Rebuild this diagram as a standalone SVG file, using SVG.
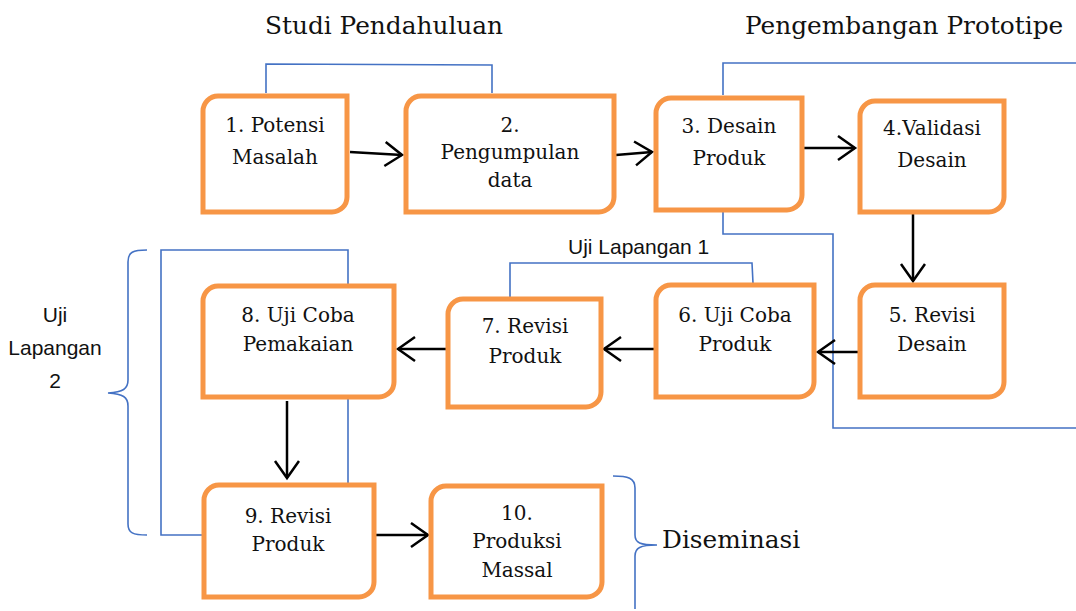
<svg xmlns="http://www.w3.org/2000/svg" width="1076" height="611" viewBox="0 0 1076 611">
<style>
.box{fill:#fff;stroke:#F79646;stroke-width:5}
.t{font-family:"DejaVu Serif","Liberation Serif",serif;font-size:20px;fill:#111;text-anchor:middle}
.title{font-family:"DejaVu Serif","Liberation Serif",serif;font-size:24.8px;fill:#111}
.s{font-family:"Liberation Sans",Arial,sans-serif;font-size:21px;fill:#111}
.blue{fill:none;stroke:#4472C4;stroke-width:1.6}
.arr{fill:none;stroke:#000;stroke-width:2.5;marker-end:url(#ah)}
</style>
<defs>
<marker id="ah" markerUnits="userSpaceOnUse" markerWidth="22" markerHeight="30" refX="19" refY="13" orient="auto" viewBox="0 0 22 30">
<path d="M2,1 L19,13 L2,25" fill="none" stroke="#000" stroke-width="2.5"/>
</marker>
</defs>
<rect width="1076" height="611" fill="#fff"/>

<g id="labels">
<text class="title" x="265" y="34">Studi Pendahuluan</text>
<text class="title" x="745" y="34">Pengembangan Prototipe</text>
<text class="title" x="662" y="548">Diseminasi</text>
<text class="s" x="568" y="254">Uji Lapangan 1</text>
<text class="s" x="55" y="322" text-anchor="middle">Uji</text>
<text class="s" x="55" y="355" text-anchor="middle">Lapangan</text>
<text class="s" x="55" y="388" text-anchor="middle">2</text>
</g>

<g id="connectors">
<path class="blue" d="M266,93 V64 L492,65 V93"/>
<path class="blue" d="M723,95 V63 H1076"/>
<path class="blue" d="M723,212 V234 H833 V428 H1076"/>
<path class="blue" d="M753,283 L752,263 H510 V298"/>
<path class="blue" d="M348,284 V250 H161 V535 H203"/>
<path class="blue" d="M348,399 V483"/>
<path class="blue" d="M147,250 C133,250 128,252 128,262 V380 C128,389 123,392 108,393 C123,394 128,397 128,406 V524 C128,533 133,535 147,535"/>
<path class="blue" d="M613,476 C628,476 635,478 635,488 V535 C635,543 640,545 657,545 C640,545 635,548 635,556 V609"/>
<path class="arr" d="M350,152 L402,155"/>
<path class="arr" d="M616,155 L652,152"/>
<path class="arr" d="M804,148 L855,148"/>
<path class="arr" d="M913,214 V281"/>
<path class="arr" d="M858,352 H818"/>
<path class="arr" d="M655,349 H604"/>
<path class="arr" d="M450,349 H398"/>
<path class="arr" d="M287,401 V478"/>
<path class="arr" d="M375,535 H428"/>
</g>

<g id="n1"><path class="box" d="M218,96 H347 V197 A15,15 0 0 1 332,212 H203 V111 A15,15 0 0 1 218,96 Z"/>
<text class="t" x="275" y="132">1. Potensi</text><text class="t" x="275" y="164">Masalah</text></g>
<g id="n2"><path class="box" d="M421,96 H614 V197 A15,15 0 0 1 599,212 H406 V111 A15,15 0 0 1 421,96 Z"/>
<text class="t" x="510" y="132">2.</text><text class="t" x="510" y="159">Pengumpulan</text><text class="t" x="510" y="187">data</text></g>
<g id="n3"><path class="box" d="M671,98 H802 V195 A15,15 0 0 1 787,210 H656 V113 A15,15 0 0 1 671,98 Z"/>
<text class="t" x="729" y="133">3. Desain</text><text class="t" x="729" y="165">Produk</text></g>
<g id="n4"><path class="box" d="M875,101 H1004 V197 A15,15 0 0 1 989,212 H860 V116 A15,15 0 0 1 875,101 Z"/>
<text class="t" x="932" y="135">4.Validasi</text><text class="t" x="932" y="167">Desain</text></g>
<g id="n5"><path class="box" d="M875,285 H1004 V382 A15,15 0 0 1 989,397 H860 V300 A15,15 0 0 1 875,285 Z"/>
<text class="t" x="932" y="322">5. Revisi</text><text class="t" x="932" y="351">Desain</text></g>
<g id="n6"><path class="box" d="M671,285 H814 V382 A15,15 0 0 1 799,397 H656 V300 A15,15 0 0 1 671,285 Z"/>
<text class="t" x="735" y="322">6. Uji Coba</text><text class="t" x="735" y="351">Produk</text></g>
<g id="n7"><path class="box" d="M463,299 H601 V392 A15,15 0 0 1 586,407 H448 V314 A15,15 0 0 1 463,299 Z"/>
<text class="t" x="525" y="333">7. Revisi</text><text class="t" x="525" y="363">Produk</text></g>
<g id="n8"><path class="box" d="M218,286 H394 V382 A15,15 0 0 1 379,397 H203 V301 A15,15 0 0 1 218,286 Z"/>
<text class="t" x="298" y="322">8. Uji Coba</text><text class="t" x="298" y="351">Pemakaian</text></g>
<g id="n9"><path class="box" d="M219,485 H374 V582 A15,15 0 0 1 359,597 H204 V500 A15,15 0 0 1 219,485 Z"/>
<text class="t" x="288" y="523">9. Revisi</text><text class="t" x="288" y="551">Produk</text></g>
<g id="n10"><path class="box" d="M446,486 H602 V582 A15,15 0 0 1 587,597 H431 V501 A15,15 0 0 1 446,486 Z"/>
<text class="t" x="517" y="520">10.</text><text class="t" x="517" y="548">Produksi</text><text class="t" x="517" y="577">Massal</text></g>
</svg>
